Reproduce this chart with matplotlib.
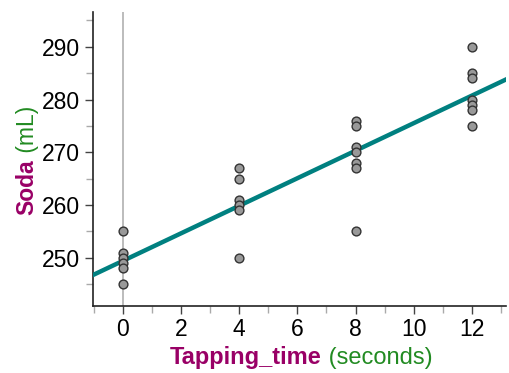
import numpy as np
import matplotlib.pyplot as plt
from matplotlib.ticker import MultipleLocator

# tapping time (seconds) and soda volume (mL)
tap_0 = [255, 251, 250, 249, 248, 245]
tap_4 = [267, 265, 261, 260, 259, 250]
tap_8 = [276, 275, 271, 270, 268, 267, 255]
tap_12 = [290, 285, 284, 280, 279, 278, 275]
times = [0, 4, 8, 12]

purple = '#990066'
green = '#228B22'
teal = '#008080'

plt.rcParams['font.family'] = ['Liberation Sans', 'DejaVu Sans']

x = np.concatenate([[t] * len(v) for t, v in zip(times, [tap_0, tap_4, tap_8, tap_12])])
y = np.concatenate([tap_0, tap_4, tap_8, tap_12])

fig = plt.figure(figsize=(5.10, 3.73), dpi=100)
ax = fig.add_axes([0.182, 0.180, 0.810, 0.788])

ax.axvline(0, color='#b0b0b0', lw=1.2, zorder=1)

# least squares line
slope, intercept = np.polyfit(x, y, 1)
xs = np.array([-1.1, 13.3])
ax.plot(xs, intercept + slope * xs, color=teal, lw=3.2, zorder=3, solid_capstyle='butt')

ax.scatter(x, y, s=40, facecolor='#999999', edgecolor='#333333', linewidth=1.0, zorder=4)

ax.set_xlim(-1.03, 13.17)
ax.set_ylim(240.9, 296.6)
ax.xaxis.set_major_locator(MultipleLocator(2))
ax.xaxis.set_minor_locator(MultipleLocator(1))
ax.yaxis.set_major_locator(MultipleLocator(10))
ax.yaxis.set_minor_locator(MultipleLocator(5))
ax.set_yticks([250, 260, 270, 280, 290])

for s in ['top', 'right']:
    ax.spines[s].set_visible(False)
for s in ['left', 'bottom']:
    ax.spines[s].set_color('#222222')
    ax.spines[s].set_linewidth(1.2)

ax.tick_params(which='major', length=6, width=1, color='#444444', labelsize=16.5, pad=3)
ax.tick_params(which='minor', length=5, width=1, color='#aaaaaa')

# two-colour axis labels
t1 = fig.text(0.333, 0.025, 'Tapping_time', color=purple, weight='bold', fontsize=17, ha='left', va='baseline')
ax.annotate(' (seconds)', xy=(1, 0), xycoords=t1, ha='left', va='bottom', color=green, fontsize=17)

t2 = fig.text(0.053, 0.424, 'Soda', color=purple, weight='bold', fontsize=16.5, rotation=90, ha='center', va='bottom')
ax.annotate(' (mL)', xy=(0.5, 1), xycoords=t2, ha='center', va='bottom', color=green, fontsize=16.5, rotation=90)

fig.savefig('out.png', dpi=100)
